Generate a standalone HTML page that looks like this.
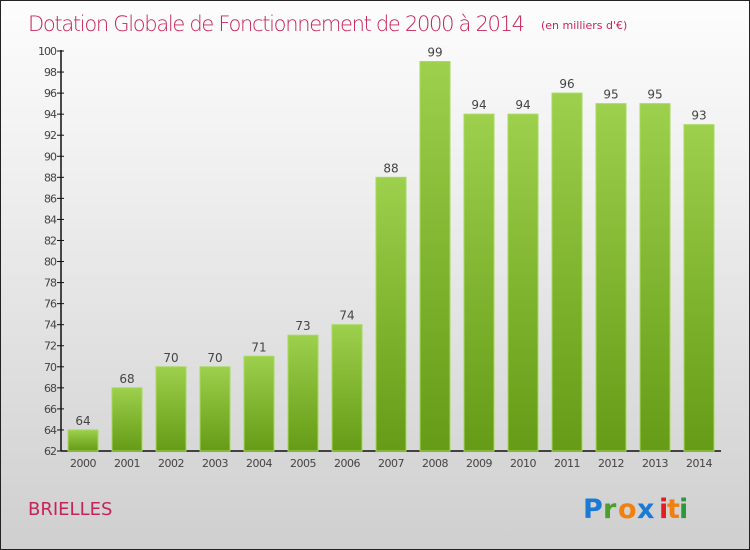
<!DOCTYPE html>
<html><head><meta charset="utf-8"><style>
body{margin:0}
#c{width:748px;height:548px;border:1px solid #222;background:linear-gradient(#fdfdfd,#f0f0f0 30%,#cfcfcf);position:relative;font-family:"DejaVu Sans","Liberation Sans",sans-serif;overflow:hidden}
</style></head><body>
<div id="c">
<svg width="748" height="548" id="s">
<defs><linearGradient id="g" x1="0" y1="0" x2="0" y2="1"><stop offset="0" stop-color="#9dd04c"/><stop offset="1" stop-color="#659b16"/></linearGradient></defs>
<text x="27" y="30" font-size="21" fill="#c4245a" font-weight="200" style="font-family:'DejaVu Sans',sans-serif;font-weight:200" textLength="497">Dotation Globale de Fonctionnement de 2000 à 2014</text>
<text x="540" y="28" font-size="11" fill="#c4245a">(en milliers d'€)</text>
<text x="27" y="514" font-size="18" fill="#c4245a">BRIELLES</text>
<g font-size="27" font-weight="bold" font-family="'DejaVu Sans',sans-serif">
<text x="582" y="517" fill="#1a7ad4">P</text><text x="602" y="517" fill="#4aa02c">r</text><text x="617" y="517" fill="#f08010">o</text><text x="636" y="517" fill="#1a7ad4">x</text><text x="658" y="517" fill="#e02020">i</text><text x="666" y="517" fill="#f08010">t</text><text x="678" y="517" fill="#2a9a3a">i</text></g>
<g id="plot"></g>
</svg></div>
<script>
const years=["2000","2001","2002","2003","2004","2005","2006","2007","2008","2009","2010","2011","2012","2013","2014"];
const values=[64,68,70,70,71,73,74,88,99,94,94,96,95,95,93];
const yTicks=[62,64,66,68,70,72,74,76,78,80,82,84,86,88,90,92,94,96,98,100];
const NS="http://www.w3.org/2000/svg";
const p=document.getElementById('plot');
const y=v=>450-(v-62)*400/38;
const x=i=>82+i*44;
function mk(t,a,txt){const e=document.createElementNS(NS,t);for(const k in a)e.setAttribute(k,a[k]);if(txt!=null)e.textContent=txt;p.appendChild(e);return e;}
let ax=mk('line',{x1:60,y1:49,x2:60,y2:450,stroke:'#111','stroke-width':1.5});


let bx=mk('line',{x1:60,y1:450,x2:720,y2:450,stroke:'#111','stroke-width':1.5});


yTicks.forEach(v=>{
 let t=mk('line',{x1:56,x2:63,y1:y(v),y2:y(v),stroke:'#111'});
 
 
 let l=mk('text',{x:55,y:y(v)+4,'font-size':11,'text-anchor':'end',fill:'#444','letter-spacing':-1},v);
 
 
});
values.forEach((v,i)=>{
 let r=mk('rect',{x:x(i)-15,y:y(v),width:30,height:450-y(v),fill:'url(#g)',stroke:'#a8d860','stroke-width':1});
 
 
 let t=mk('text',{x:x(i),y:y(v)-5,'font-size':12,'text-anchor':'middle',fill:'#444'},v);
 
 
 let yl=mk('text',{x:x(i),y:466,'font-size':11,'text-anchor':'middle',fill:'#444','letter-spacing':-0.5},years[i]);
 
 
});
</script>
</body></html>
